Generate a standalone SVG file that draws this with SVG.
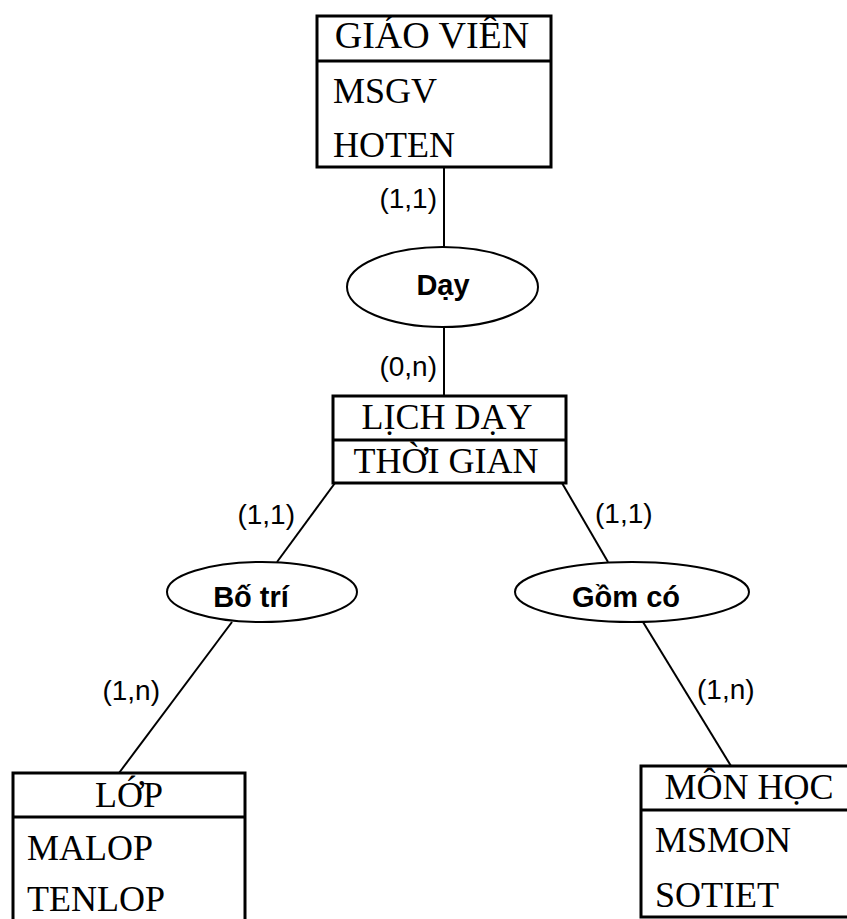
<svg xmlns="http://www.w3.org/2000/svg" width="847" height="919" viewBox="0 0 847 919">
<style>
.box{fill:#fff;stroke:#000;stroke-width:3}
.div{stroke:#000;stroke-width:3}
.ell{fill:#fff;stroke:#000;stroke-width:2}
.ln{stroke:#000;stroke-width:2;fill:none}
.t{font-family:"Liberation Serif","Times New Roman",serif;font-size:36px;fill:#000}
.c{text-anchor:middle}
.lbl{font-family:"Liberation Sans",Arial,sans-serif;font-size:28px;fill:#000}
.rel{font-family:"Liberation Sans",Arial,sans-serif;font-size:29px;font-weight:bold;fill:#000;text-anchor:middle}
</style>
<rect width="847" height="919" fill="#fff"/>
<g id="connectors">
<line class="ln" x1="444" y1="167" x2="444" y2="247"/>
<line class="ln" x1="444" y1="327" x2="444" y2="396"/>
<line class="ln" x1="335" y1="483" x2="277" y2="562"/>
<line class="ln" x1="232" y1="622" x2="119" y2="773"/>
<line class="ln" x1="562" y1="483" x2="608" y2="562"/>
<line class="ln" x1="643" y1="622" x2="731" y2="766"/>
<text class="lbl" x="437" y="208" text-anchor="end">(1,1)</text>
<text class="lbl" x="437" y="376" text-anchor="end">(0,n)</text>
<text class="lbl" x="295" y="524" text-anchor="end">(1,1)</text>
<text class="lbl" x="595" y="523">(1,1)</text>
<text class="lbl" x="160" y="700" text-anchor="end">(1,n)</text>
<text class="lbl" x="697" y="699">(1,n)</text>
</g>
<g id="giaovien">
<rect class="box" x="317" y="16" width="234" height="151"/>
<line class="div" x1="317" y1="61" x2="551" y2="61"/>
<text class="t c" x="432" y="48" style="font-size:38px">GIÁO VIÊN</text>
<text class="t" x="333" y="103">MSGV</text>
<text class="t" x="333" y="157">HOTEN</text>
</g>
<g id="day">
<ellipse class="ell" cx="442.5" cy="287" rx="95.5" ry="40"/>
<text class="rel" x="443" y="295">Dạy</text>
</g>
<g id="lichday">
<rect class="box" x="333" y="396" width="233" height="87"/>
<line class="div" x1="333" y1="440" x2="566" y2="440"/>
<text class="t c" x="447" y="429">LỊCH DẠY</text>
<text class="t c" x="446" y="473">THỜI GIAN</text>
</g>
<g id="botri">
<ellipse class="ell" cx="262" cy="592" rx="95" ry="30"/>
<text class="rel" x="251" y="607">Bố trí</text>
</g>
<g id="gomco">
<ellipse class="ell" cx="632" cy="592" rx="117" ry="30"/>
<text class="rel" x="626" y="607">Gồm có</text>
</g>
<g id="lop">
<rect class="box" x="13" y="773" width="232" height="160"/>
<line class="div" x1="13" y1="817" x2="245" y2="817"/>
<text class="t c" x="129" y="807">LỚP</text>
<text class="t" x="27" y="860">MALOP</text>
<text class="t" x="27" y="911">TENLOP</text>
</g>
<g id="monhoc">
<rect class="box" x="641" y="766" width="220" height="151"/>
<line class="div" x1="641" y1="810" x2="861" y2="810"/>
<text class="t c" x="749" y="799">MÔN HỌC</text>
<text class="t" x="655" y="852">MSMON</text>
<text class="t" x="655" y="907">SOTIET</text>
</g>
</svg>
